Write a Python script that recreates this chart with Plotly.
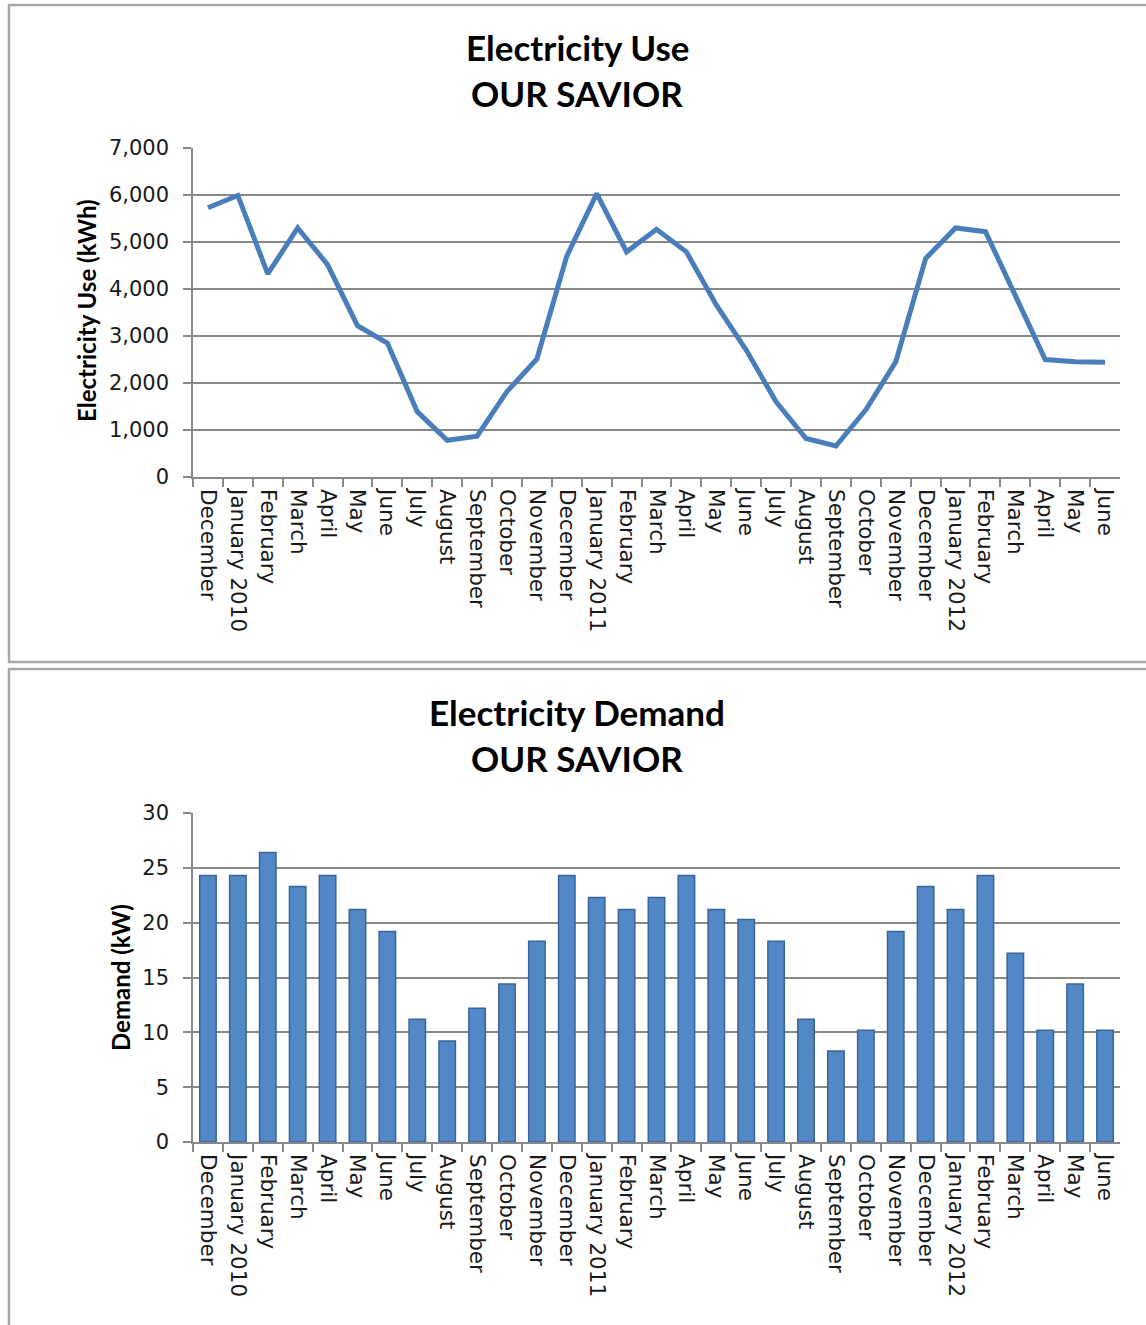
import plotly.graph_objects as go

# Billing periods (Dec 2009 - Jun 2012) and their axis labels
periods = [
    "2009-12", "2010-01", "2010-02", "2010-03", "2010-04", "2010-05", "2010-06",
    "2010-07", "2010-08", "2010-09", "2010-10", "2010-11", "2010-12",
    "2011-01", "2011-02", "2011-03", "2011-04", "2011-05", "2011-06",
    "2011-07", "2011-08", "2011-09", "2011-10", "2011-11", "2011-12",
    "2012-01", "2012-02", "2012-03", "2012-04", "2012-05", "2012-06",
]
tick_labels = [
    "December", "January 2010", "February", "March", "April", "May", "June",
    "July", "August", "September", "October", "November", "December",
    "January 2011", "February", "March", "April", "May", "June",
    "July", "August", "September", "October", "November", "December",
    "January 2012", "February", "March", "April", "May", "June",
]

# Monthly electricity use (kWh)
use_kwh = [
    5730, 5990, 4320, 5300, 4520, 3220, 2850, 1390, 780, 870, 1820, 2510, 4700,
    6030, 4790, 5270, 4790, 3660, 2700, 1600, 820, 660, 1430, 2450, 4650,
    5300, 5220, 3840, 2500, 2450, 2440,
]

# Monthly peak demand (kW)
demand_kw = [
    24.3, 24.3, 26.4, 23.3, 24.3, 21.2, 19.2, 11.2, 9.2, 12.2, 14.4, 18.3, 24.3,
    22.3, 21.2, 22.3, 24.3, 21.2, 20.3, 18.3, 11.2, 8.3, 10.2, 19.2, 23.3,
    21.2, 24.3, 17.2, 10.2, 14.4, 10.2,
]

W, H = 1146, 1325


def fx(px):
    return px / W


def fy(px):
    return 1 - px / H


GRID = "#888888"
X_TICK_FONT = dict(family="DejaVu Sans", size=21.5, color="#1a1a1a")
Y_TICK_FONT = dict(family="DejaVu Sans", size=21, color="#1a1a1a")
TITLE_FONT = dict(family="Lato", size=35, color="#000000")
AXIS_TITLE_FONT = dict(family="Lato", size=24, color="#000000")

fig = go.Figure()

fig.add_trace(go.Scatter(
    x=periods, y=use_kwh, mode="lines",
    line=dict(color="#4A7EBB", width=5),
    xaxis="x", yaxis="y", showlegend=False,
))

fig.add_trace(go.Bar(
    x=periods, y=demand_kw,
    marker=dict(color="#5388C6", line=dict(color="#3A6499", width=1.5)),
    xaxis="x2", yaxis="y2", showlegend=False,
))

x_common = dict(
    type="category",
    categoryorder="array", categoryarray=periods,
    tickmode="array", tickvals=periods, ticktext=tick_labels,
    tickson="boundaries",
    ticks="outside", ticklen=8, tickwidth=1.5, tickcolor=GRID,
    tickangle=90, tickfont=X_TICK_FONT, ticklabelstandoff=6,
    showline=True, linecolor=GRID, linewidth=1.5,
    showgrid=False, zeroline=False, automargin=False,
    range=[-0.5, len(periods) - 0.5],
    domain=[fx(193), fx(1120)],
)

y_common = dict(
    ticks="outside", ticklen=8, tickwidth=1.5, tickcolor=GRID,
    tickfont=Y_TICK_FONT, ticklabelstandoff=10,
    showline=True, linecolor=GRID, linewidth=1.5,
    showgrid=True, gridcolor=GRID, gridwidth=1.8,
    zeroline=False, automargin=False,
)

fig.update_layout(
    width=W, height=H,
    margin=dict(l=0, r=0, t=0, b=0),
    paper_bgcolor="white", plot_bgcolor="white",
    bargap=0.45,
    xaxis=dict(x_common, anchor="y"),
    yaxis=dict(y_common, anchor="x", range=[0, 7000], dtick=1000,
               tickformat=",d", domain=[fy(477), fy(148)]),
    xaxis2=dict(x_common, anchor="y2"),
    yaxis2=dict(y_common, anchor="x2", range=[0, 30], dtick=5,
                domain=[fy(1142), fy(813)]),
)

# Chart frames
frame = dict(type="rect", xref="paper", yref="paper",
             line=dict(color="#A6A6A6", width=2.5), fillcolor="rgba(0,0,0,0)")
fig.add_shape(frame, x0=fx(9), x1=fx(1160), y0=fy(662), y1=fy(5))
fig.add_shape(frame, x0=fx(9), x1=fx(1160), y0=fy(1345), y1=fy(669))

# Chart titles
fig.add_annotation(x=fx(577), y=fy(47), xref="paper", yref="paper",
                   text="<b>Electricity Use</b>", showarrow=False,
                   font=TITLE_FONT, xanchor="center", yanchor="middle")
fig.add_annotation(x=fx(577), y=fy(93), xref="paper", yref="paper",
                   text="<b>OUR SAVIOR</b>", showarrow=False,
                   font=TITLE_FONT, xanchor="center", yanchor="middle")
fig.add_annotation(x=fx(577), y=fy(712), xref="paper", yref="paper",
                   text="<b>Electricity Demand</b>", showarrow=False,
                   font=TITLE_FONT, xanchor="center", yanchor="middle")
fig.add_annotation(x=fx(577), y=fy(758), xref="paper", yref="paper",
                   text="<b>OUR SAVIOR</b>", showarrow=False,
                   font=TITLE_FONT, xanchor="center", yanchor="middle")

# Axis titles
fig.add_annotation(x=fx(86), y=fy(311), xref="paper", yref="paper",
                   text="<b>Electricity Use (kWh)</b>", showarrow=False,
                   textangle=-90, font=AXIS_TITLE_FONT,
                   xanchor="center", yanchor="middle")
fig.add_annotation(x=fx(120), y=fy(978), xref="paper", yref="paper",
                   text="<b>Demand (kW)</b>", showarrow=False,
                   textangle=-90, font=AXIS_TITLE_FONT,
                   xanchor="center", yanchor="middle")

fig.write_html("out.html")
